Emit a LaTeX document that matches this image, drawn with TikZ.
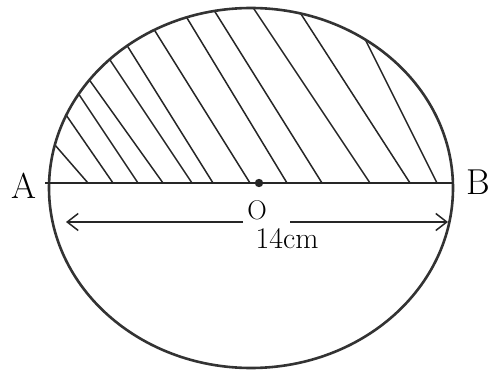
\documentclass[tikz,border=0pt]{standalone}
\usepackage{fontspec}
\usetikzlibrary{arrows.meta}

\tikzset{
  outline/.style={line width=2.6pt, draw=black!80},
  hatch/.style={line width=1.5pt, draw=black!85},
  lbl/.style={font=\fontsize{36}{38}\selectfont, inner sep=0pt},
  small lbl/.style={font=\fontsize{30}{32}\selectfont, inner sep=0pt},
  dimarrow/.style={line width=1.5pt, draw=black!85, -{Straight Barb[length=11pt,width=17pt]}}
}

\begin{document}
\begin{tikzpicture}[x=1pt,y=-1pt]
  \useasboundingbox (0,0) rectangle (490,374);

  \coordinate (ctr) at (251,188);
  \coordinate (Aend) at (45,183);
  \coordinate (Bend) at (453,183);

  % shaded half
  \begin{scope}
    \clip (ctr) ellipse [x radius=202, y radius=180];
    \foreach \b/\s in {88/1.15, 113/1.45, 138/1.5, 163/1.4, 192/1.5, 213/1.6,
                       250/1.6, 287/1.65, 322/1.6, 370/1.5, 410/1.55, 437/2.0}
      \draw[hatch] (\b,183) -- ({\b-200/\s},-17);
  \end{scope}

  \draw[outline] (ctr) ellipse [x radius=202, y radius=180];
  \draw[hatch] (Aend) -- (Bend);

  \fill[black!85] (259,183) circle (4.2pt);
  \node[small lbl, font=\fontsize{27}{29}\selectfont] (o) at (257,210) {O};
  \node[small lbl] (len) at (287,239) {14cm};
  \node[lbl] (a) at (24,186) {A};
  \node[lbl] (b) at (478,182) {B};

  % dimension arrow
  \coordinate (gapL) at (243,222);
  \coordinate (gapR) at (290,222);
  \coordinate (arrL) at (66,222);
  \coordinate (arrR) at (448,222);
  \draw[dimarrow] (gapL) -- (arrL);
  \draw[dimarrow] (gapR) -- (arrR);
\end{tikzpicture}
\end{document}
